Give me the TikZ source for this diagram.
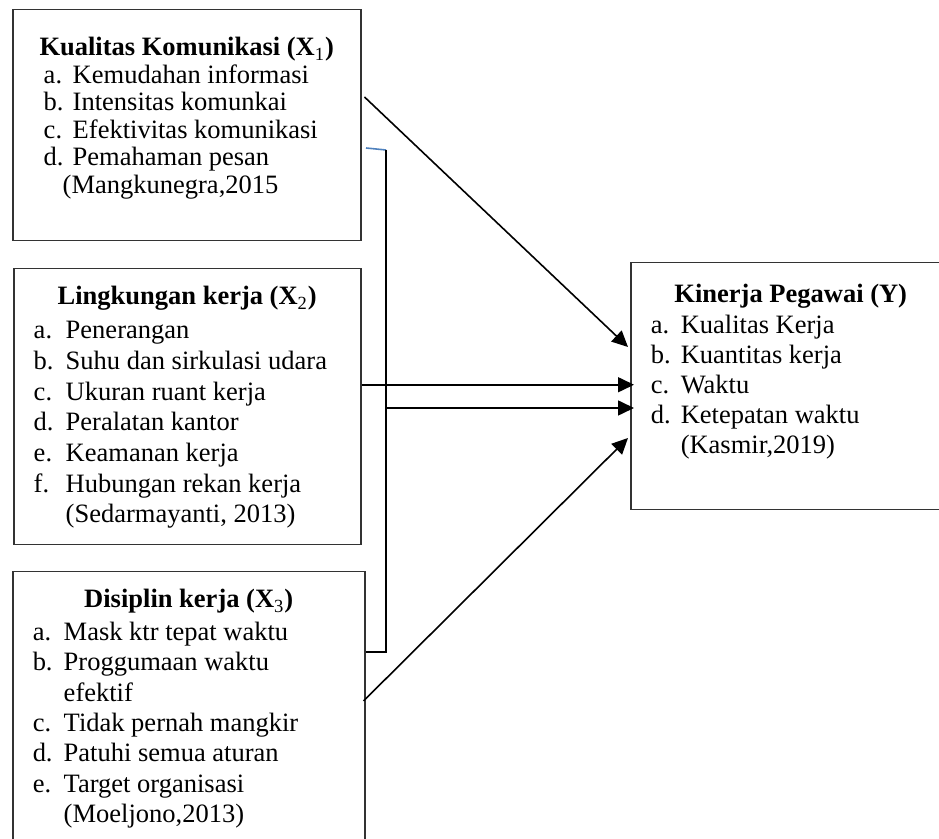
\documentclass[tikz,border=0pt]{standalone}
\usepackage{fontspec}
\setmainfont{Liberation Serif}
\usetikzlibrary{arrows.meta, calc, positioning}
\definecolor{boxgray}{HTML}{333333}
\definecolor{tickblue}{HTML}{4F81BD}

\newlength{\lblskip}
\newlength{\lblwd}
\newcommand{\boxtitle}[2]{\makebox[\linewidth][c]{\rule{0pt}{#1}\textbf{#2}}}
\newcommand{\itm}[2]{\hspace*{\lblskip}\makebox[\lblwd][l]{#1}#2}
\newcommand{\boxcontent}[4]{\parbox[t][#2][t]{#1}{\fontsize{13.25}{#3}\selectfont #4}}

\begin{document}
\begin{tikzpicture}[x=0.5pt, y=-0.5pt]
    \tikzstyle{box} = [draw=boxgray, line width=0.75pt, inner sep=0pt,
	anchor=north west]
    \tikzstyle{arr} = [-{Triangle[length=8pt, width=7.5pt]}, line width=0.8pt]

	\clip (0,0) rectangle (939,839);

	% variabel bebas
	\node[box] (X1) at (12,9) {\boxcontent{174pt}{115.5pt}{13.75pt}{%
		\setlength{\lblskip}{15.5pt}\setlength{\lblwd}{14.5pt}%
		\boxtitle{23pt}{Kualitas Komunikasi (X\textsubscript{\normalfont 1})}\\
		\itm{a.}{Kemudahan informasi}\\
		\itm{b.}{Intensitas komunkai}\\
		\itm{c.}{Efektivitas komunikasi}\\
		\itm{d.}{Pemahaman pesan}\\
		\hspace*{25pt}(Mangkunegra,2015}};

	\node[box] (X2) at (13,268) {\boxcontent{173.5pt}{138pt}{15.35pt}{%
		\setlength{\lblskip}{10pt}\setlength{\lblwd}{16pt}%
		\boxtitle{18pt}{Lingkungan kerja (X\textsubscript{\normalfont 2})}\\[1.6pt]
		\itm{a.}{Penerangan}\\
		\itm{b.}{Suhu dan sirkulasi udara}\\
		\itm{c.}{Ukuran ruant kerja}\\
		\itm{d.}{Peralatan kantor}\\
		\itm{e.}{Keamanan kerja}\\
		\itm{f.}{Hubungan rekan kerja}\\
		\itm{}{(Sedarmayanti, 2013)}}};

	\node[box] (X3) at (12,571) {\boxcontent{176pt}{140pt}{15.15pt}{%
		\setlength{\lblskip}{10pt}\setlength{\lblwd}{15.5pt}%
		\boxtitle{18pt}{Disiplin kerja (X\textsubscript{\normalfont 3})}\\[1.3pt]
		\itm{a.}{Mask ktr tepat waktu}\\
		\itm{b.}{Proggumaan waktu}\\
		\itm{}{efektif}\\
		\itm{c.}{Tidak pernah mangkir}\\
		\itm{d.}{Patuhi semua aturan}\\
		\itm{e.}{Target organisasi}\\
		\itm{}{(Moeljono,2013)}}};

	% variabel terikat
	\node[box] (Y) at (630,262) {\boxcontent{160pt}{123.5pt}{15pt}{%
		\setlength{\lblskip}{10pt}\setlength{\lblwd}{15pt}%
		\boxtitle{20pt}{Kinerja Pegawai (Y)}\\[0.5pt]
		\itm{a.}{Kualitas Kerja}\\
		\itm{b.}{Kuantitas kerja}\\
		\itm{c.}{Waktu}\\
		\itm{d.}{Ketepatan waktu}\\
		\itm{}{(Kasmir,2019)}}};

	\coordinate (x1out) at ($(X1.north east)+(3,88)$);
	\coordinate (y1in) at ($(Y.north west)+(-2,85)$);
	\coordinate (x2out) at ($(X2.east)+(0,-22)$);
	\coordinate (y2in) at ($(Y.west |- x2out)+(4,0)$);
	\coordinate (brtick) at (366,148);
	\coordinate (brtop) at (386,150);
	\coordinate (brmid) at (386,408);
	\coordinate (brbot) at (386,652);
	\coordinate (y3in) at ($(Y.west |- brmid)+(4,0)$);
	\coordinate (x3out) at ($(X3.north east)+(-2,130)$);
	\coordinate (y4in) at ($(Y.north west)+(-2,176)$);

	\draw[arr] (x1out) -- (y1in);
	\draw[arr] (x2out) -- (y2in);
	\draw[tickblue, line width=0.8pt] (brtick) -- (brtop);
	\draw[line width=0.8pt] (brtop) -- (brbot) -- (X3.east |- brbot);
	\draw[arr] (brmid) -- (y3in);
	\draw[arr] (x3out) -- (y4in);
\end{tikzpicture}
\end{document}
